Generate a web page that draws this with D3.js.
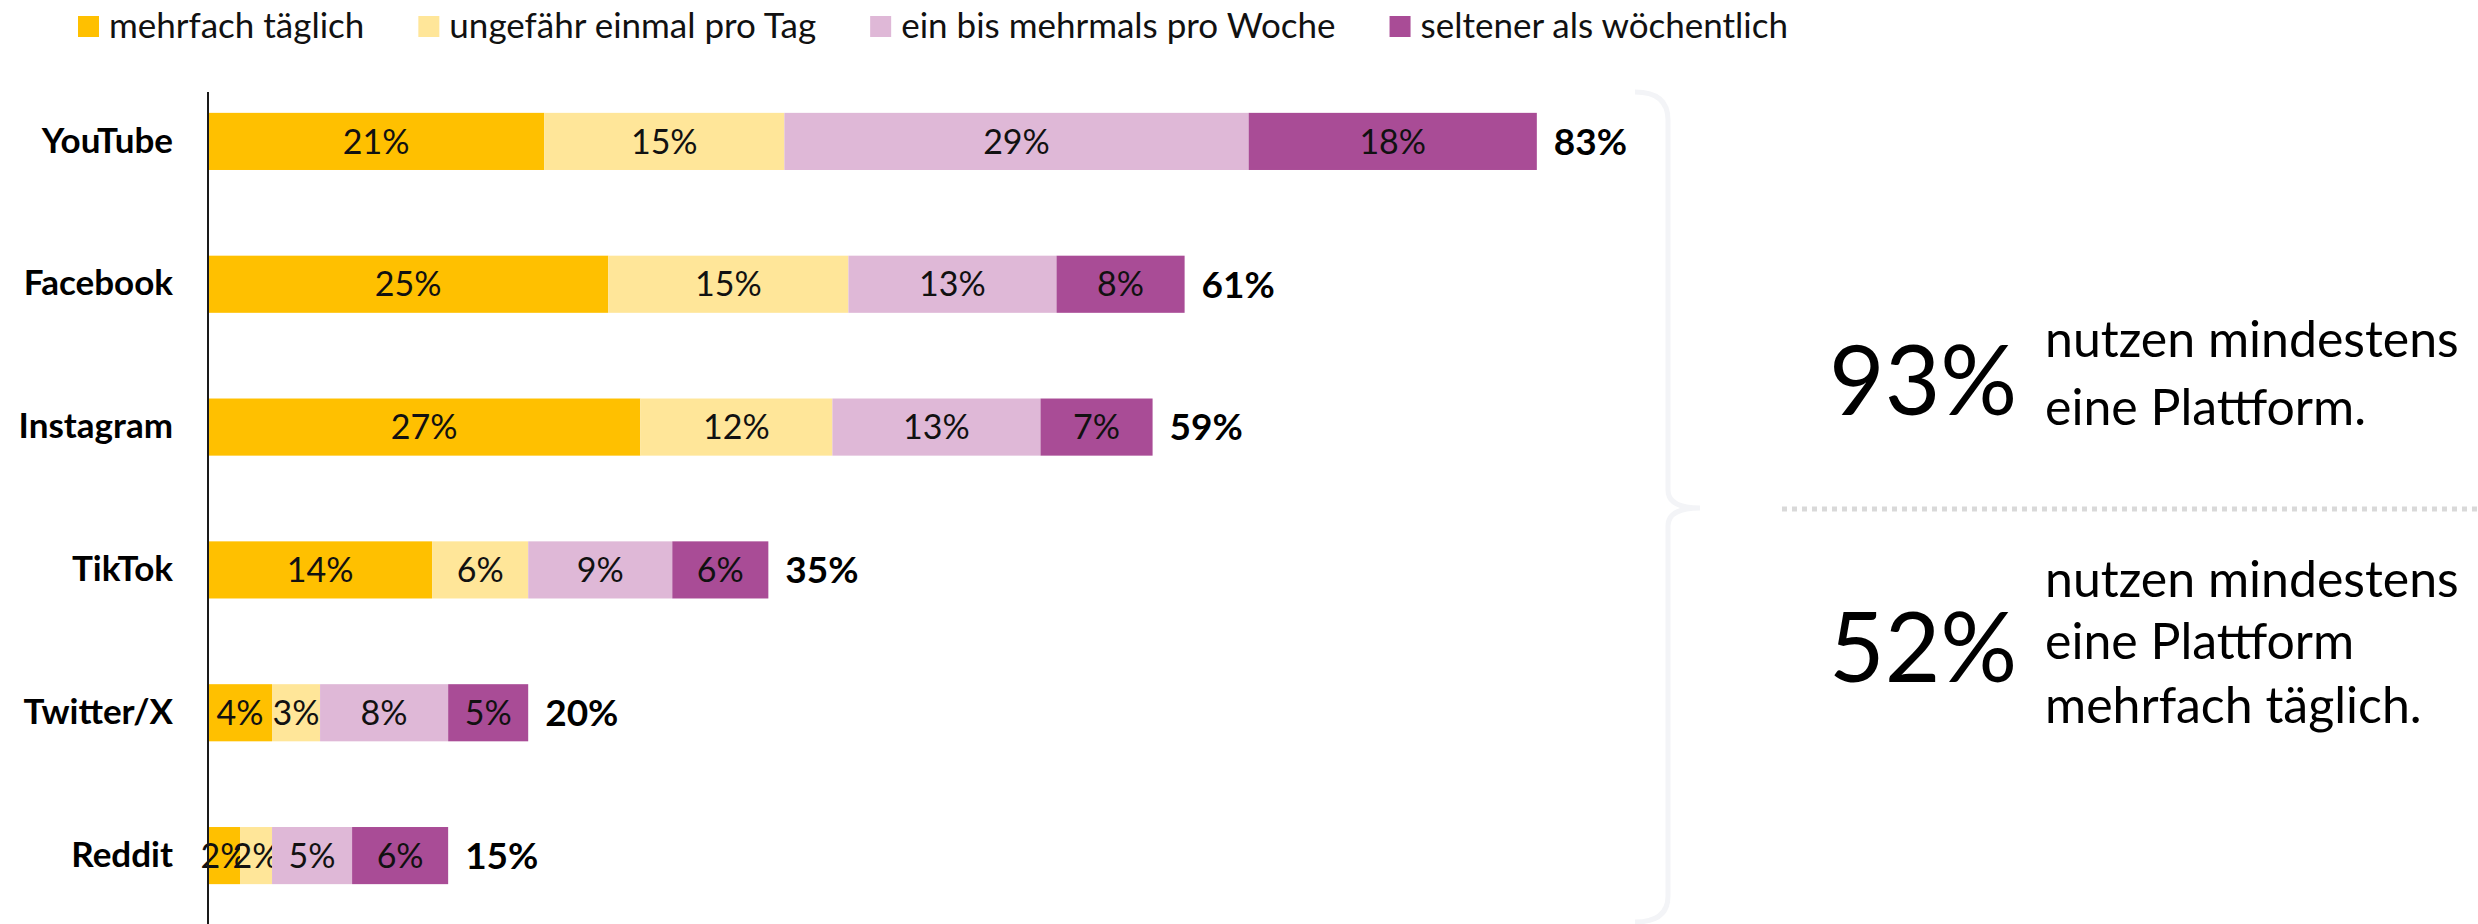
<!DOCTYPE html>
<html>
<head>
<meta charset="utf-8">
<script src="https://cdn.jsdelivr.net/npm/d3@7"></script>
<style>
  body { margin: 0; background: #fff; }
  svg { display: block; font-family: Lato, "Open Sans", sans-serif; }
</style>
</head>
<body>
<div id="chart"></div>
<script>
var platforms = ['YouTube', 'Facebook', 'Instagram', 'TikTok', 'Twitter/X', 'Reddit'];
var seriesNames = ['mehrfach täglich', 'ungefähr einmal pro Tag', 'ein bis mehrmals pro Woche', 'seltener als wöchentlich'];
var mehrfach = [21, 25, 27, 14, 4, 2];
var einmal = [15, 15, 12, 6, 3, 2];
var woche = [29, 13, 13, 9, 8, 5];
var seltener = [18, 8, 7, 6, 5, 6];
var totals = [83, 61, 59, 35, 20, 15];
var summaryValues = ['93%', '52%'];
var summaryTexts = [
  ['nutzen mindestens', 'eine Plattform.'],
  ['nutzen mindestens', 'eine Plattform', 'mehrfach täglich.']
];

var colors = ['#FFC000', '#FFE699', '#DFB8D7', '#A94C96'];

var width = 2478;
var height = 924;

var svg = d3.select('#chart').append('svg')
  .attr('width', width)
  .attr('height', height);

var data = platforms.map(function(p, i) {
  return { platform: p, values: [mehrfach[i], einmal[i], woche[i], seltener[i]], total: totals[i] };
});

var stack = d3.stack().keys([0, 1, 2, 3]).value(function(d, k) { return d.values[k]; });
var series = stack(data);

var xScale = d3.scaleLinear()
  .domain([0, 100])
  .range([208, 1809]);

var yScale = d3.scaleBand()
  .domain(platforms)
  .range([70, 927])
  .paddingInner(0.6)
  .paddingOuter(0.3);

// bars
var groups = svg.selectAll('g.series')
  .data(series)
  .enter()
  .append('g')
  .attr('class', 'series')
  .attr('fill', function(d, i) { return colors[i]; });

groups.selectAll('rect')
  .data(function(d) { return d; })
  .enter()
  .append('rect')
  .attr('x', function(d) { return xScale(d[0]); })
  .attr('y', function(d) { return yScale(d.data.platform); })
  .attr('width', function(d) { return xScale(d[1]) - xScale(d[0]); })
  .attr('height', yScale.bandwidth());

// labels in bars
groups.selectAll('text')
  .data(function(d) { return d; })
  .enter()
  .append('text')
  .attr('x', function(d) { return (xScale(d[0]) + xScale(d[1])) / 2; })
  .attr('y', function(d) { return yScale(d.data.platform) + yScale.bandwidth() / 2; })
  .attr('dy', '0.36em')
  .attr('text-anchor', 'middle')
  .attr('fill', '#111')
  .style('font-size', '34px')
  .text(function(d) { return (d[1] - d[0]) + '%'; });

// totals
svg.selectAll('text.total')
  .data(data)
  .enter()
  .append('text')
  .attr('class', 'total')
  .attr('x', function(d) { return xScale(d.total) + 17; })
  .attr('y', function(d) { return yScale(d.platform) + yScale.bandwidth() / 2; })
  .attr('dy', '0.36em')
  .style('font-size', '37px')
  .style('font-weight', 'bold')
  .text(function(d) { return d.total + '%'; });

// y axis
var yAxis = d3.axisLeft(yScale).tickSize(0).tickPadding(35);
var axisG = svg.append('g')
  .attr('transform', 'translate(208,0)')
  .call(yAxis);
axisG.select('.domain').remove();
axisG.selectAll('text')
  .style('font-family', 'Lato, "Open Sans", sans-serif')
  .style('font-size', '35px')
  .style('font-weight', 'bold')
  .attr('fill', '#000');

svg.append('line')
  .attr('x1', 208).attr('x2', 208)
  .attr('y1', 92).attr('y2', height)
  .attr('stroke', '#1a1a1a')
  .attr('stroke-width', 2);

// legend
var legend = svg.append('g').attr('class', 'legend');
var lx = 78;
seriesNames.forEach(function(name, i) {
  legend.append('rect')
    .attr('x', lx).attr('y', 16)
    .attr('width', 21).attr('height', 21)
    .attr('fill', colors[i]);
  var t = legend.append('text')
    .attr('x', lx + 31).attr('y', 38)
    .style('font-size', '35px')
    .attr('fill', '#111')
    .text(name);
  lx = lx + 31 + t.node().getComputedTextLength() + 54;
});

// bracket
svg.append('path')
  .attr('d', 'M1635,92 Q1668,92 1668,120 L1668,490 Q1668,508 1700,508 Q1668,508 1668,526 L1668,896 Q1668,922 1635,922')
  .attr('fill', 'none')
  .attr('stroke', '#F3F4F7')
  .attr('stroke-width', 5);

// dotted divider
svg.append('line')
  .attr('x1', 1782).attr('x2', width)
  .attr('y1', 509).attr('y2', 509)
  .attr('stroke', '#D9D9D9')
  .attr('stroke-width', 5)
  .attr('stroke-dasharray', '5,5');

// summaries
var bigBase = [415, 682];
var lineBases = [[357, 425], [597, 659, 723]];
summaryValues.forEach(function(v, i) {
  svg.append('text')
    .attr('x', 1829).attr('y', bigBase[i])
    .style('font-size', '96px')
    .style('font-weight', 400)
    .attr('fill', '#000')
    .text(v);
  summaryTexts[i].forEach(function(line, j) {
    svg.append('text')
      .attr('x', 2045).attr('y', lineBases[i][j])
      .style('font-size', '50px')
      .attr('fill', '#000')
      .text(line);
  });
});
</script>
</body>
</html>
